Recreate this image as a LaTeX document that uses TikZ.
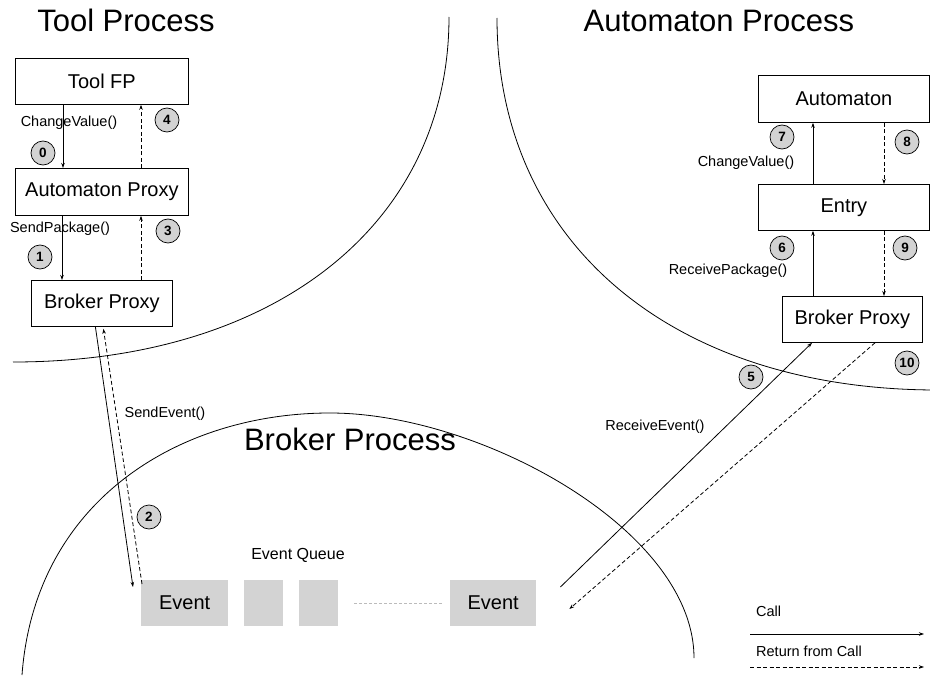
\documentclass[tikz,border=0pt]{standalone}
\usepackage{fontspec}
\setmainfont{Liberation Sans}
\usetikzlibrary{arrows.meta,calc}
\definecolor{evgray}{HTML}{D3D3D3}
\definecolor{qgray}{HTML}{BBBBBB}
\begin{document}
\begin{tikzpicture}[x=1pt,y=-1pt,
  thinline/.style={line width=0.8pt},
  box/.style={draw, line width=0.8pt, inner sep=0pt, anchor=north west, font=\fontsize{20}{24}\selectfont},
  evbox/.style={fill=evgray, inner sep=0pt, anchor=north west, minimum height=46pt, font=\fontsize{20}{24}\selectfont},
  ptitle/.style={anchor=base, inner sep=0pt, font=\fontsize{31}{36}\selectfont},
  lab/.style={inner sep=0pt, font=\fontsize{14.5}{16}\selectfont},
  circ/.style={circle, draw, line width=0.7pt, fill=evgray, minimum size=24pt, inner sep=0pt, font=\bfseries\fontsize{13.5}{13.5}\selectfont},
  call/.style={line width=0.8pt, -{Stealth[length=5pt,width=3.5pt]}},
  ret/.style={line width=0.8pt, dash pattern=on 4pt off 2.5pt, -{Stealth[length=5pt,width=3.5pt]}},
]
\useasboundingbox (0,0) rectangle (930,693);

% process boundaries
\draw[thinline] (449,17) .. controls (449,224) and (275,362) .. (13,362);
\draw[thinline] (497,18) .. controls (497,241) and (670,389) .. (935,390);
\draw[thinline] (22,675) .. controls (35,500) and (180,413) .. (330,413)
                .. controls (480,413) and (694,530) .. (694,658);

% titles
\node[ptitle] (ttool) at (126,32) {Tool Process};
\node[ptitle] (tauto) at (719,32) {Automaton Process};
\node[ptitle] (tbroker) at (350,450) {Broker Process};

% tool process boxes
\node[box, minimum width=173pt, minimum height=46pt] (toolfp) at (15,58) {Tool FP};
\node[box, minimum width=173pt, minimum height=47pt] (aproxy) at (15,168) {Automaton Proxy};
\node[box, minimum width=141pt, minimum height=46pt] (bproxyl) at (31,280) {Broker Proxy};

% automaton process boxes
\node[box, minimum width=171pt, minimum height=47pt] (automaton) at (758,75) {Automaton};
\node[box, minimum width=171pt, minimum height=46pt] (entry) at (758,184) {Entry};
\node[box, minimum width=140pt, minimum height=46pt] (bproxyr) at (782,296) {Broker Proxy};

% event queue
\node[evbox, minimum width=87pt] (ev1) at (141,580) {Event};
\node[evbox, minimum width=39pt] (ev2) at (244,580) {};
\node[evbox, minimum width=39pt] (ev3) at (299,580) {};
\node[evbox, minimum width=86pt] (ev4) at (450,580) {Event};
\node[lab, font=\fontsize{16}{18}\selectfont] (eq) at (298,555) {Event Queue};
\draw[qgray, line width=0.7pt, dash pattern=on 3pt off 2pt] ([xshift=16pt]ev3.east) -- ([xshift=-8pt]ev4.west);

% tool process connectors
\draw[call] ([xshift=48pt]toolfp.south west) -- ([xshift=48pt]aproxy.north west);
\draw[ret] ([xshift=126pt]aproxy.north west) -- ([xshift=126pt]toolfp.south west);
\draw[call] ([xshift=47pt]aproxy.south west) -- ([xshift=31pt]bproxyl.north west);
\draw[ret] ([xshift=110pt]bproxyl.north west) -- ([xshift=126pt]aproxy.south west);

% send event
\draw[call] ([xshift=-6.5pt]bproxyl.south) -- ([xshift=-8pt,yshift=-7pt]ev1.north west);
\draw[ret] ([xshift=1pt,yshift=-4pt]ev1.north west) -- ([xshift=1.5pt,yshift=-2pt]bproxyl.south);

% receive event
\coordinate (rs) at ([xshift=24pt,yshift=-7pt]ev4.north east);
\coordinate (re) at ([xshift=33pt,yshift=-29pt]ev4.north east);
\draw[call] (rs) -- ([xshift=30pt]bproxyr.south west);
\draw[ret] ([xshift=93pt]bproxyr.south west) -- (re);

% automaton process connectors
\draw[call] ([xshift=55pt]entry.north west) -- ([xshift=55pt]automaton.south west);
\draw[ret] ([xshift=126pt]automaton.south west) -- ([xshift=126pt]entry.north west);
\draw[call] ([xshift=31pt]bproxyr.north west) -- ([xshift=55pt]entry.south west);
\draw[ret] ([xshift=126pt]entry.south west) -- ([xshift=102pt]bproxyr.north west);

% labels
\node[lab] (lcv1) at (69,123) {ChangeValue()};
\node[lab] (lsp) at (60,229) {SendPackage()};
\node[lab] (lse) at (165,414) {SendEvent()};
\node[lab] (lre) at (655,427) {ReceiveEvent()};
\node[lab] (lcv2) at (746,163) {ChangeValue()};
\node[lab] (lrp) at (728,271) {ReceivePackage()};

% step numbers
\node[circ] (c0) at (43,153) {0};
\node[circ] (c1) at (40,257) {1};
\node[circ] (c2) at (149,517) {2};
\node[circ] (c3) at (168,231) {3};
\node[circ] (c4) at (167,120) {4};
\node[circ] (c5) at (751,377) {5};
\node[circ] (c6) at (782,248) {6};
\node[circ] (c7) at (782,137) {7};
\node[circ] (c8) at (907,142) {8};
\node[circ] (c9) at (905,248) {9};
\node[circ] (c10) at (907,363) {10};

% legend
\node[lab, anchor=west] (lcall) at (756,611) {Call};
\node[lab, anchor=west] (lret) at (756,651) {Return from Call};
\coordinate (l1a) at (750,634);
\coordinate (l1b) at (924,634);
\coordinate (l2a) at (750,667);
\coordinate (l2b) at (924,667);
\draw[call] (l1a) -- (l1b);
\draw[ret] (l2a) -- (l2b);
\end{tikzpicture}
\end{document}
